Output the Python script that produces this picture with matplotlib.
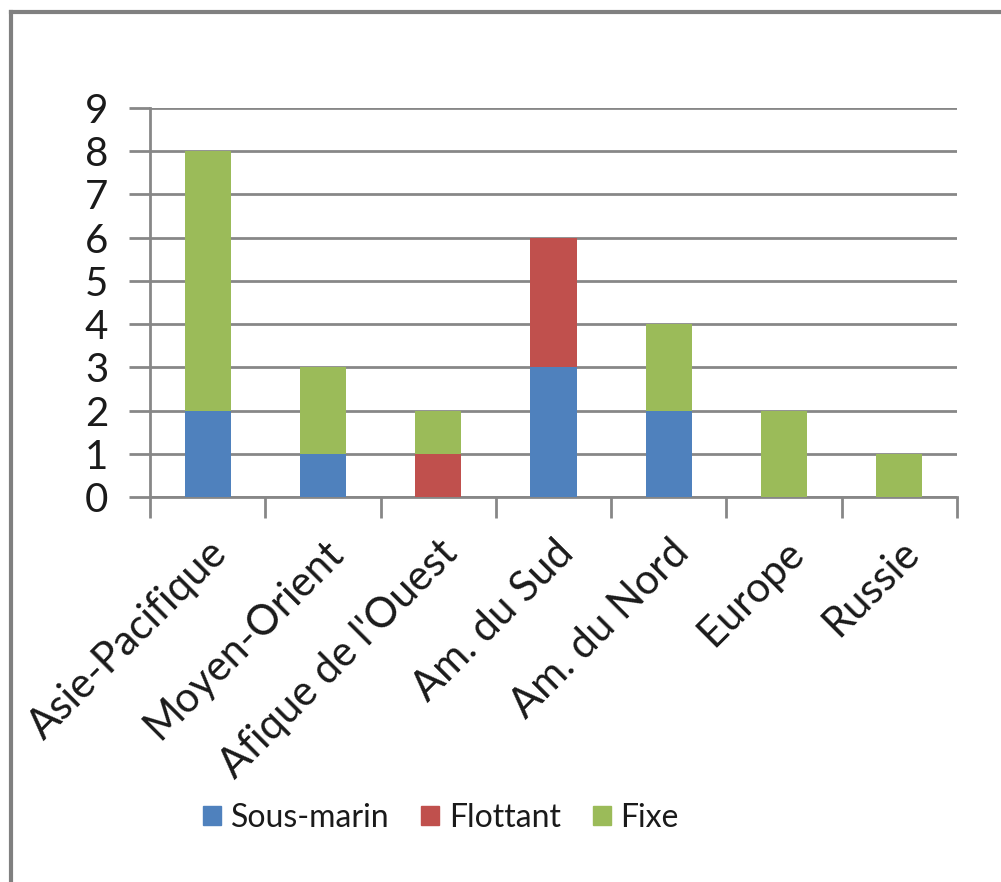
import matplotlib
matplotlib.use("Agg")
import matplotlib.pyplot as plt
from matplotlib.lines import Line2D
import numpy as np

categories = ["Asie-Pacifique", "Moyen-Orient", "Afique de l'Ouest", "Am. du Sud",
              "Am. du Nord", "Europe", "Russie"]
sous_marin = [2, 1, 0, 3, 2, 0, 0]
flottant = [0, 0, 1, 3, 0, 0, 0]
fixe = [6, 2, 1, 0, 2, 2, 1]
series_names = ["Sous-marin", "Flottant", "Fixe"]
colors = ["#4F81BD", "#C0504D", "#9BBB59"]
yticks = list(range(0, 10))

plt.rcParams['font.family'] = ['Lato', 'DejaVu Sans']

W, H = 1001, 882
fig = plt.figure(figsize=(W / 100, H / 100), dpi=100)
ax = fig.add_axes([150 / W, 1 - 497 / H, (957 - 150) / W, (497 - 108) / H])

x = np.arange(len(categories))
bw = 0.40
ax.bar(x, sous_marin, bw, color=colors[0], label=series_names[0], zorder=3)
ax.bar(x, flottant, bw, bottom=sous_marin, color=colors[1], label=series_names[1], zorder=3)
bot = np.array(sous_marin) + np.array(flottant)
ax.bar(x, fixe, bw, bottom=bot, color=colors[2], label=series_names[2], zorder=3)

ax.set_xlim(-0.5, len(categories) - 0.5)
ax.set_ylim(0, 9)
ax.set_yticks(yticks)
ax.set_yticklabels([str(v) for v in yticks], fontsize=29, color="#1a1a1a")
ax.yaxis.grid(True, color="#878787", linewidth=2, zorder=0)
ax.set_axisbelow(True)
for s in ["top", "right"]:
    ax.spines[s].set_visible(False)
for s in ["left", "bottom"]:
    ax.spines[s].set_color("#878787")
    ax.spines[s].set_linewidth(2)
ax.tick_params(axis="y", length=15, width=2, color="#878787", pad=15)

ax.set_xticks(np.arange(-0.5, len(categories) + 0.5, 1.0))
ax.set_xticklabels([])
ax.tick_params(axis="x", which="major", length=15, width=2, color="#878787")
ax.set_xticks(x, minor=True)
ax.set_xticklabels(categories, minor=True, rotation=45, ha="right",
                   rotation_mode="anchor", fontsize=30, color="#1a1a1a")
ax.tick_params(axis="x", which="minor", length=0, pad=26)

handles = [plt.Rectangle((0, 0), 1, 1, color=c) for c in colors]
fig.legend(handles, series_names, loc="center", bbox_to_anchor=(441 / W, 1 - 818 / H),
           ncol=3, frameon=False,
           prop={'family': ['Lato', 'DejaVu Sans'], 'size': 23},
           handlelength=0.56, handleheight=0.56,
           columnspacing=1.0, handletextpad=0.3, labelcolor="#1a1a1a")

fig.add_artist(Line2D([11 / W, 11 / W], [0, 1 - 12 / H], transform=fig.transFigure,
                      color="#808080", linewidth=3))
fig.add_artist(Line2D([11 / W, 1], [1 - 12 / H, 1 - 12 / H], transform=fig.transFigure,
                      color="#808080", linewidth=3))

fig.savefig("out.png", dpi=100)
